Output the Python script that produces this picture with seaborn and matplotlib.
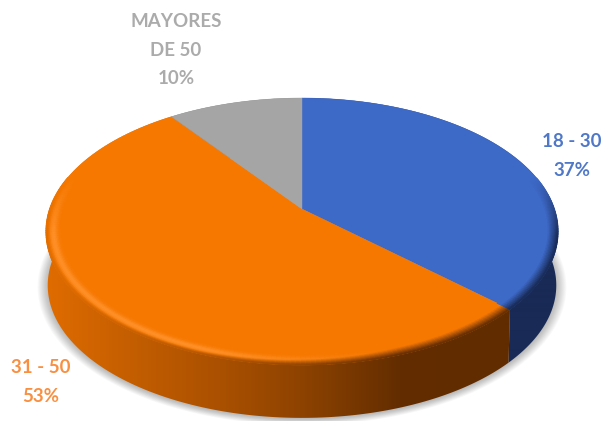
import numpy as np
import matplotlib
matplotlib.use("Agg")
import matplotlib.pyplot as plt
from matplotlib.collections import PolyCollection
from matplotlib.colors import to_rgb
from matplotlib.patches import Polygon
import seaborn as sns

categories = ["18 - 30", "31 - 50", "MAYORES\nDE 50"]
shares = [37, 53, 10]
face_colors = ["#3D69C7", "#F67800", "#A5A5A5"]
label_colors = ["#4F78C8", "#F98F40", "#ABABAB"]
label_anchors = [(572, 156), (41, 382), (176, 50)]

sns.set_theme(style="white")
plt.rcParams["font.family"] = ["Lato", "DejaVu Sans"]

# Perspective disc: centre, radii and foreshortening of the tilted pie
CX, CY = 302.0, 209.0
A_X, A_Y, K = 252.4, 129.7, 0.1685
DEPTH, FLOOR_SCALE = 54.0, 0.993
RIM = 0.055


def project(theta, r=1.0, floor=False):
    """Map a clockwise-from-top angle and radius on the disc to the canvas."""
    u, v = r * np.sin(theta), r * np.cos(theta)
    d = 1 + K * v
    x, y = A_X * u / d, -A_Y * v / d
    if floor:
        return CX + x * FLOOR_SCALE, CY + y * FLOOR_SCALE + DEPTH
    return CX + x, CY + y


def mix(a, b, t):
    return tuple(np.array(a) * (1 - t) + np.array(b) * t)


def wall_color(idx, x):
    """Shade of a slice's outer wall, lit from the left."""
    if idx == 0:
        return to_rgb("#182A55")
    if idx == 1:
        xs = [45, 130, 220, 300, 400, 505]
        stops = ["#E06C00", "#C45E00", "#AA5000", "#8E4300", "#632D00", "#602C00"]
        rgb = np.array([to_rgb(c) for c in stops])
        return tuple(np.interp(x, xs, rgb[:, i]) for i in range(3))
    return to_rgb("#6E6E6E")


fig = plt.figure(figsize=(6.05, 4.21), dpi=100)
ax = fig.add_axes([0, 0, 1, 1])
ax.set_xlim(0, 605)
ax.set_ylim(421, 0)
ax.axis("off")

edges = np.deg2rad(np.concatenate([[0], np.cumsum(shares)]) * 3.6)

# Soft ground shadow under the front of the pie
ring = np.linspace(0, 2 * np.pi, 300)
for grow in np.linspace(1.04, 1.0, 12):
    sx, sy = project(ring, floor=True)
    ax.fill(CX + (sx - CX) * grow, CY + DEPTH + (sy - CY - DEPTH) * grow + 1,
            color="#000000", alpha=0.025, lw=0, zorder=1)

# Outer walls: a horizontal colour ramp clipped to each slice's wall outline
ramp_x = np.arange(0, 606)
for idx in range(len(shares)):
    ts = np.linspace(edges[idx], edges[idx + 1], 240)
    tx, ty = project(ts)
    bx, by = project(ts, floor=True)
    outline = Polygon(np.c_[np.r_[tx, bx[::-1]], np.r_[ty, by[::-1]]],
                      closed=True, transform=ax.transData, fc="none", ec="none")
    ax.add_patch(outline)
    ramp = np.array([[wall_color(idx, x) for x in ramp_x]])
    img = ax.imshow(ramp, extent=(0, 606, 421, 0), aspect="auto", zorder=2,
                    interpolation="bilinear")
    img.set_clip_path(outline)
ax.set_xlim(0, 605)
ax.set_ylim(421, 0)

# Top faces
for idx, colour in enumerate(face_colors):
    ts = np.linspace(edges[idx], edges[idx + 1], 160)
    px, py = project(ts)
    ax.fill(np.r_[CX, px], np.r_[CY, py], color=colour, lw=0.3, zorder=3)

# Bevel along the front of the rim: highlight on the left, dark on the right
quads, colours = [], []
radii = np.linspace(1.0, 1.0 - RIM, 13)
for idx, colour in enumerate(face_colors):
    top = to_rgb(colour)
    ts = np.linspace(edges[idx], edges[idx + 1], 200)
    for t0, t1 in zip(ts[:-1], ts[1:]):
        mid = (t0 + t1) / 2
        weight = np.clip((0.25 - np.cos(mid)) / 0.45, 0, 1)
        if weight <= 0:
            continue
        for r0, r1 in zip(radii[:-1], radii[1:]):
            f = (1 - (r0 + r1) / 2) / RIM
            x0, y0 = project(t0, r0)
            x1, y1 = project(t1, r0)
            x2, y2 = project(t1, r1)
            x3, y3 = project(t0, r1)
            xm = (x0 + x1) / 2
            wall = wall_color(idx, xm)
            lit = np.clip((400 - xm) / 200, 0, 1) if idx == 1 else 0.0
            glow = mix(top, to_rgb("#FF9028"), lit * np.exp(-((f - 0.5) / 0.28) ** 2))
            shade = np.clip(1 - f / (0.7 - 0.4 * lit), 0, 1)
            colours.append(mix(top, mix(glow, wall, shade), weight))
            quads.append([(x0, y0), (x1, y1), (x2, y2), (x3, y3)])
ax.add_collection(PolyCollection(quads[::-1], facecolors=colours[::-1],
                                 edgecolors=colours[::-1], linewidths=0.7, zorder=4))

# Category labels with their share
for name, share, colour, (lx, ly) in zip(categories, shares, label_colors, label_anchors):
    ax.text(lx, ly, f"{name}\n{share}%", color=colour, ha="center", va="center",
            fontsize=13.5, fontweight="bold", linespacing=1.85, zorder=5)

fig.savefig("out.png", dpi=100, facecolor="white")
